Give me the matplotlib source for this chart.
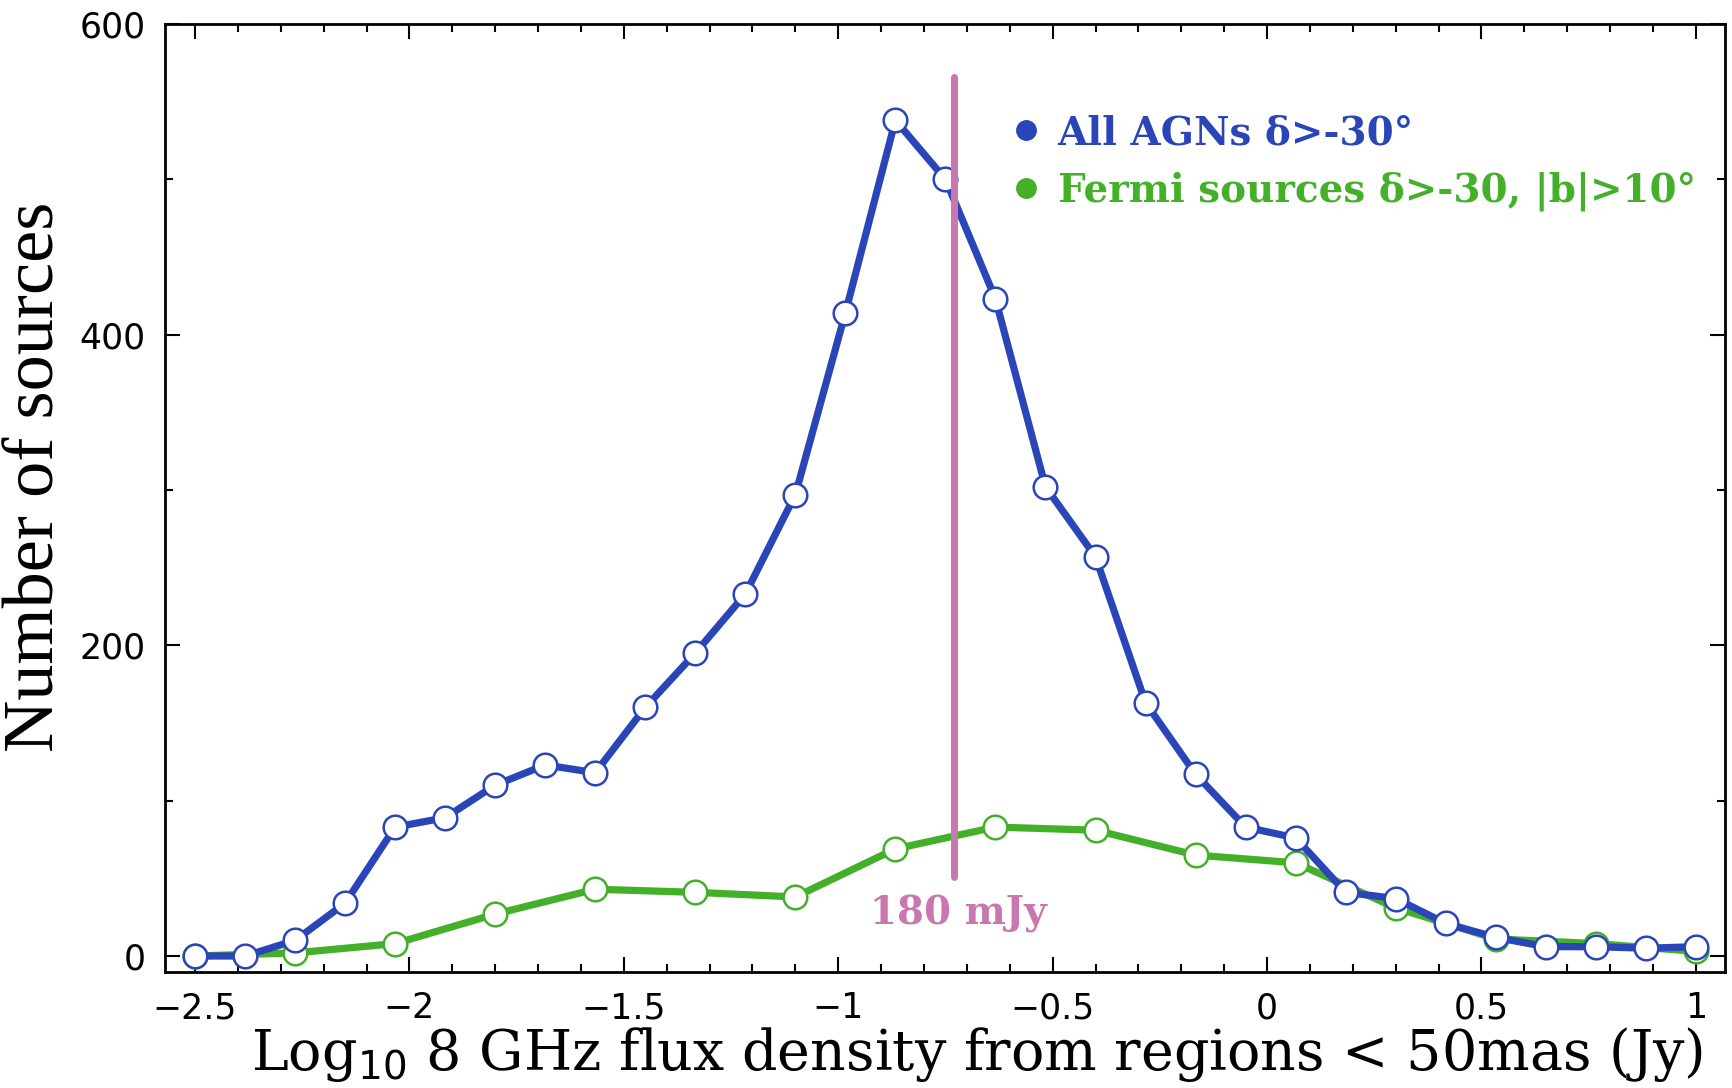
import numpy as np
import matplotlib
matplotlib.use("Agg")
import matplotlib.pyplot as plt
from matplotlib.lines import Line2D
from matplotlib.ticker import MultipleLocator, FuncFormatter

# --- data ---
log_flux = np.linspace(-2.5, 1.0, 31)
all_agn = [0, 0, 10, 34, 83, 89, 110, 123, 118, 160, 195, 233, 297, 414, 538,
           500, 423, 302, 257, 163, 117, 83, 76, 41, 37, 21, 12, 6, 6, 5, 6]
fermi_flux = log_flux[::2]
fermi = [0, 2, 8, 27, 43, 41, 38, 69, 83, 81, 65, 60, 31, 11, 8, 3]

cut_x = -0.73
cut_label = "180 mJy"
legend_labels = ["All AGNs δ>-30°", "Fermi sources δ>-30, |b|>10°"]

BLUE = "#2A45B8"
GREEN = "#44B02A"
PINK = "#C878AE"

fig = plt.figure(figsize=(17.33, 10.88), dpi=100)
ax = fig.add_axes([0.0952, 0.1066, 0.9002, 0.8714])

ax.plot(fermi_flux, fermi, color=GREEN, lw=5.2, marker="o", ms=17,
        mfc="white", mec=GREEN, mew=1.8, zorder=3)
ax.plot(log_flux, all_agn, color=BLUE, lw=5.2, marker="o", ms=17,
        mfc="white", mec=BLUE, mew=1.8, zorder=4)

ax.plot([cut_x, cut_x], [51, 566], color=PINK, lw=5, solid_capstyle="round", zorder=5)
ax.text(cut_x + 0.01, 27, cut_label, color=PINK, ha="center", va="center",
        family="DejaVu Serif", weight="bold", fontsize=28)

ax.set_xlim(-2.57, 1.068)
ax.set_ylim(-10.3, 600)

ax.xaxis.set_major_locator(MultipleLocator(0.5))
ax.xaxis.set_minor_locator(MultipleLocator(0.1))
ax.xaxis.set_major_formatter(FuncFormatter(lambda v, p: f"{v:g}".replace("-", "\u2212")))
ax.yaxis.set_major_locator(MultipleLocator(200))
ax.yaxis.set_minor_locator(MultipleLocator(100))
ax.tick_params(which="both", direction="in", top=True, right=True, width=1.5)
ax.tick_params(which="major", length=11, labelsize=25, pad=14)
ax.tick_params(which="minor", length=5.5)
for lab in ax.get_xticklabels() + ax.get_yticklabels():
    lab.set_family("DejaVu Sans")
for sp in ax.spines.values():
    sp.set_linewidth(2)

fig.text(0.564, 0.0165, r"Log$_{10}$ 8 GHz flux density from regions < 50mas (Jy)",
         ha="center", va="baseline", family="DejaVu Serif", fontsize=40)
fig.text(0.021, 0.562, "Number of sources", rotation=90, ha="center", va="center",
         family="Liberation Serif", fontsize=52)

handles = [Line2D([], [], ls="none", marker="o", ms=14, color=c) for c in (BLUE, GREEN)]
leg = ax.legend(handles, legend_labels, loc="upper left", bbox_to_anchor=(0.546, 0.905),
                frameon=False, handlelength=0.5, handletextpad=0.55, labelspacing=0.5,
                borderpad=0, borderaxespad=0,
                prop=dict(family="DejaVu Serif", weight="bold", size=28))
for txt, c in zip(leg.get_texts(), (BLUE, GREEN)):
    txt.set_color(c)

fig.savefig("out.png", dpi=100)
